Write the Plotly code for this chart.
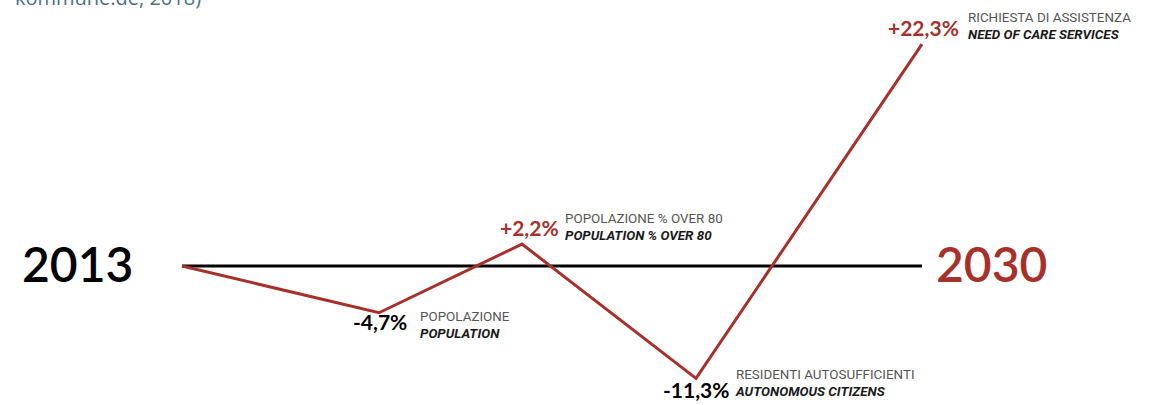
import plotly.graph_objects as go

# ---- data ----
steps = ["2013", "popolazione", "over80", "autosufficienti", "assistenza"]
x_pos = [0.0, 19.7, 34.0, 51.4, 74.0]          # position along the 2013 -> 2030 timeline
change_pct = [0.0, -4.7, 2.2, -11.3, 22.3]     # % change 2013 -> 2030
value_labels = ["", "-4,7%", "+2,2%", "-11,3%", "+22,3%"]
label_it = ["", "POPOLAZIONE", "POPOLAZIONE % OVER 80", "RESIDENTI AUTOSUFFICIENTI", "RICHIESTA DI ASSISTENZA"]
label_en = ["", "POPULATION", "POPULATION % OVER 80", "AUTONOMOUS CITIZENS", "NEED OF CARE SERVICES"]
start_year, end_year = "2013", "2030"
source_text = "kommune.de, 2018)"

RED = "#a8302c"
BLACK = "#000000"

fig = go.Figure()

# baseline
fig.add_trace(go.Scatter(
    x=[x_pos[0], x_pos[-1]], y=[0, 0], mode="lines",
    line=dict(color=BLACK, width=3), hoverinfo="skip", showlegend=False))

# change line
fig.add_trace(go.Scatter(
    x=x_pos, y=change_pct, mode="lines",
    line=dict(color=RED, width=3), hoverinfo="skip", showlegend=False))

ann = []
# value label styling per point: (xshift, yshift, color)
num_style = {1: (1, -9, BLACK), 2: (7, 17, RED), 3: (0, -11, BLACK), 4: (1, 17, RED)}
lab_style = {1: (39, -12), 2: (41, 17), 3: (37, -5), 4: (44, 18)}
for i in range(1, len(x_pos)):
    xs, ys, col = num_style[i]
    ann.append(dict(x=x_pos[i], y=change_pct[i], xref="x", yref="y",
                    text=f"<b>{value_labels[i]}</b>", showarrow=False,
                    xanchor="center", yanchor="middle", xshift=xs, yshift=ys,
                    font=dict(family="Lato", size=21, color=col)))
    lxs, lys = lab_style[i]
    ann.append(dict(x=x_pos[i], y=change_pct[i], xref="x", yref="y",
                    text=f"<span style='color:#555555'>{label_it[i]}</span><br>"
                         f"<b><i>{label_en[i]}</i></b>",
                    showarrow=False, align="left",
                    xanchor="left", yanchor="middle", xshift=lxs, yshift=lys,
                    font=dict(family="Roboto", size=13.4, color="#1a1a1a")))

# year labels
ann.append(dict(x=x_pos[0], y=0, xref="x", yref="y", text=start_year, showarrow=False,
                xanchor="right", yanchor="middle", xshift=-47, yshift=2,
                font=dict(family="Lato", size=48, color=BLACK, weight=600)))
ann.append(dict(x=x_pos[-1], y=0, xref="x", yref="y", text=end_year, showarrow=False,
                xanchor="left", yanchor="middle", xshift=12, yshift=2,
                font=dict(family="Lato", size=48, color=RED, weight=600)))

# cut-off source text at top
ann.append(dict(x=13 / 1173, y=1, xref="paper", yref="paper", text=source_text,
                showarrow=False, xanchor="left", yanchor="middle", yshift=3,
                font=dict(family="Open Sans", size=20, color="#4b6d8c")))

fig.update_layout(
    width=1173, height=405,
    margin=dict(l=0, r=0, t=0, b=0),
    paper_bgcolor="white", plot_bgcolor="white",
    xaxis=dict(range=[-18.2, 99.1], visible=False, fixedrange=True),
    yaxis=dict(range=[-13.97, 26.73], visible=False, fixedrange=True),
    annotations=ann,
    showlegend=False,
)

fig.write_html("out.html")
